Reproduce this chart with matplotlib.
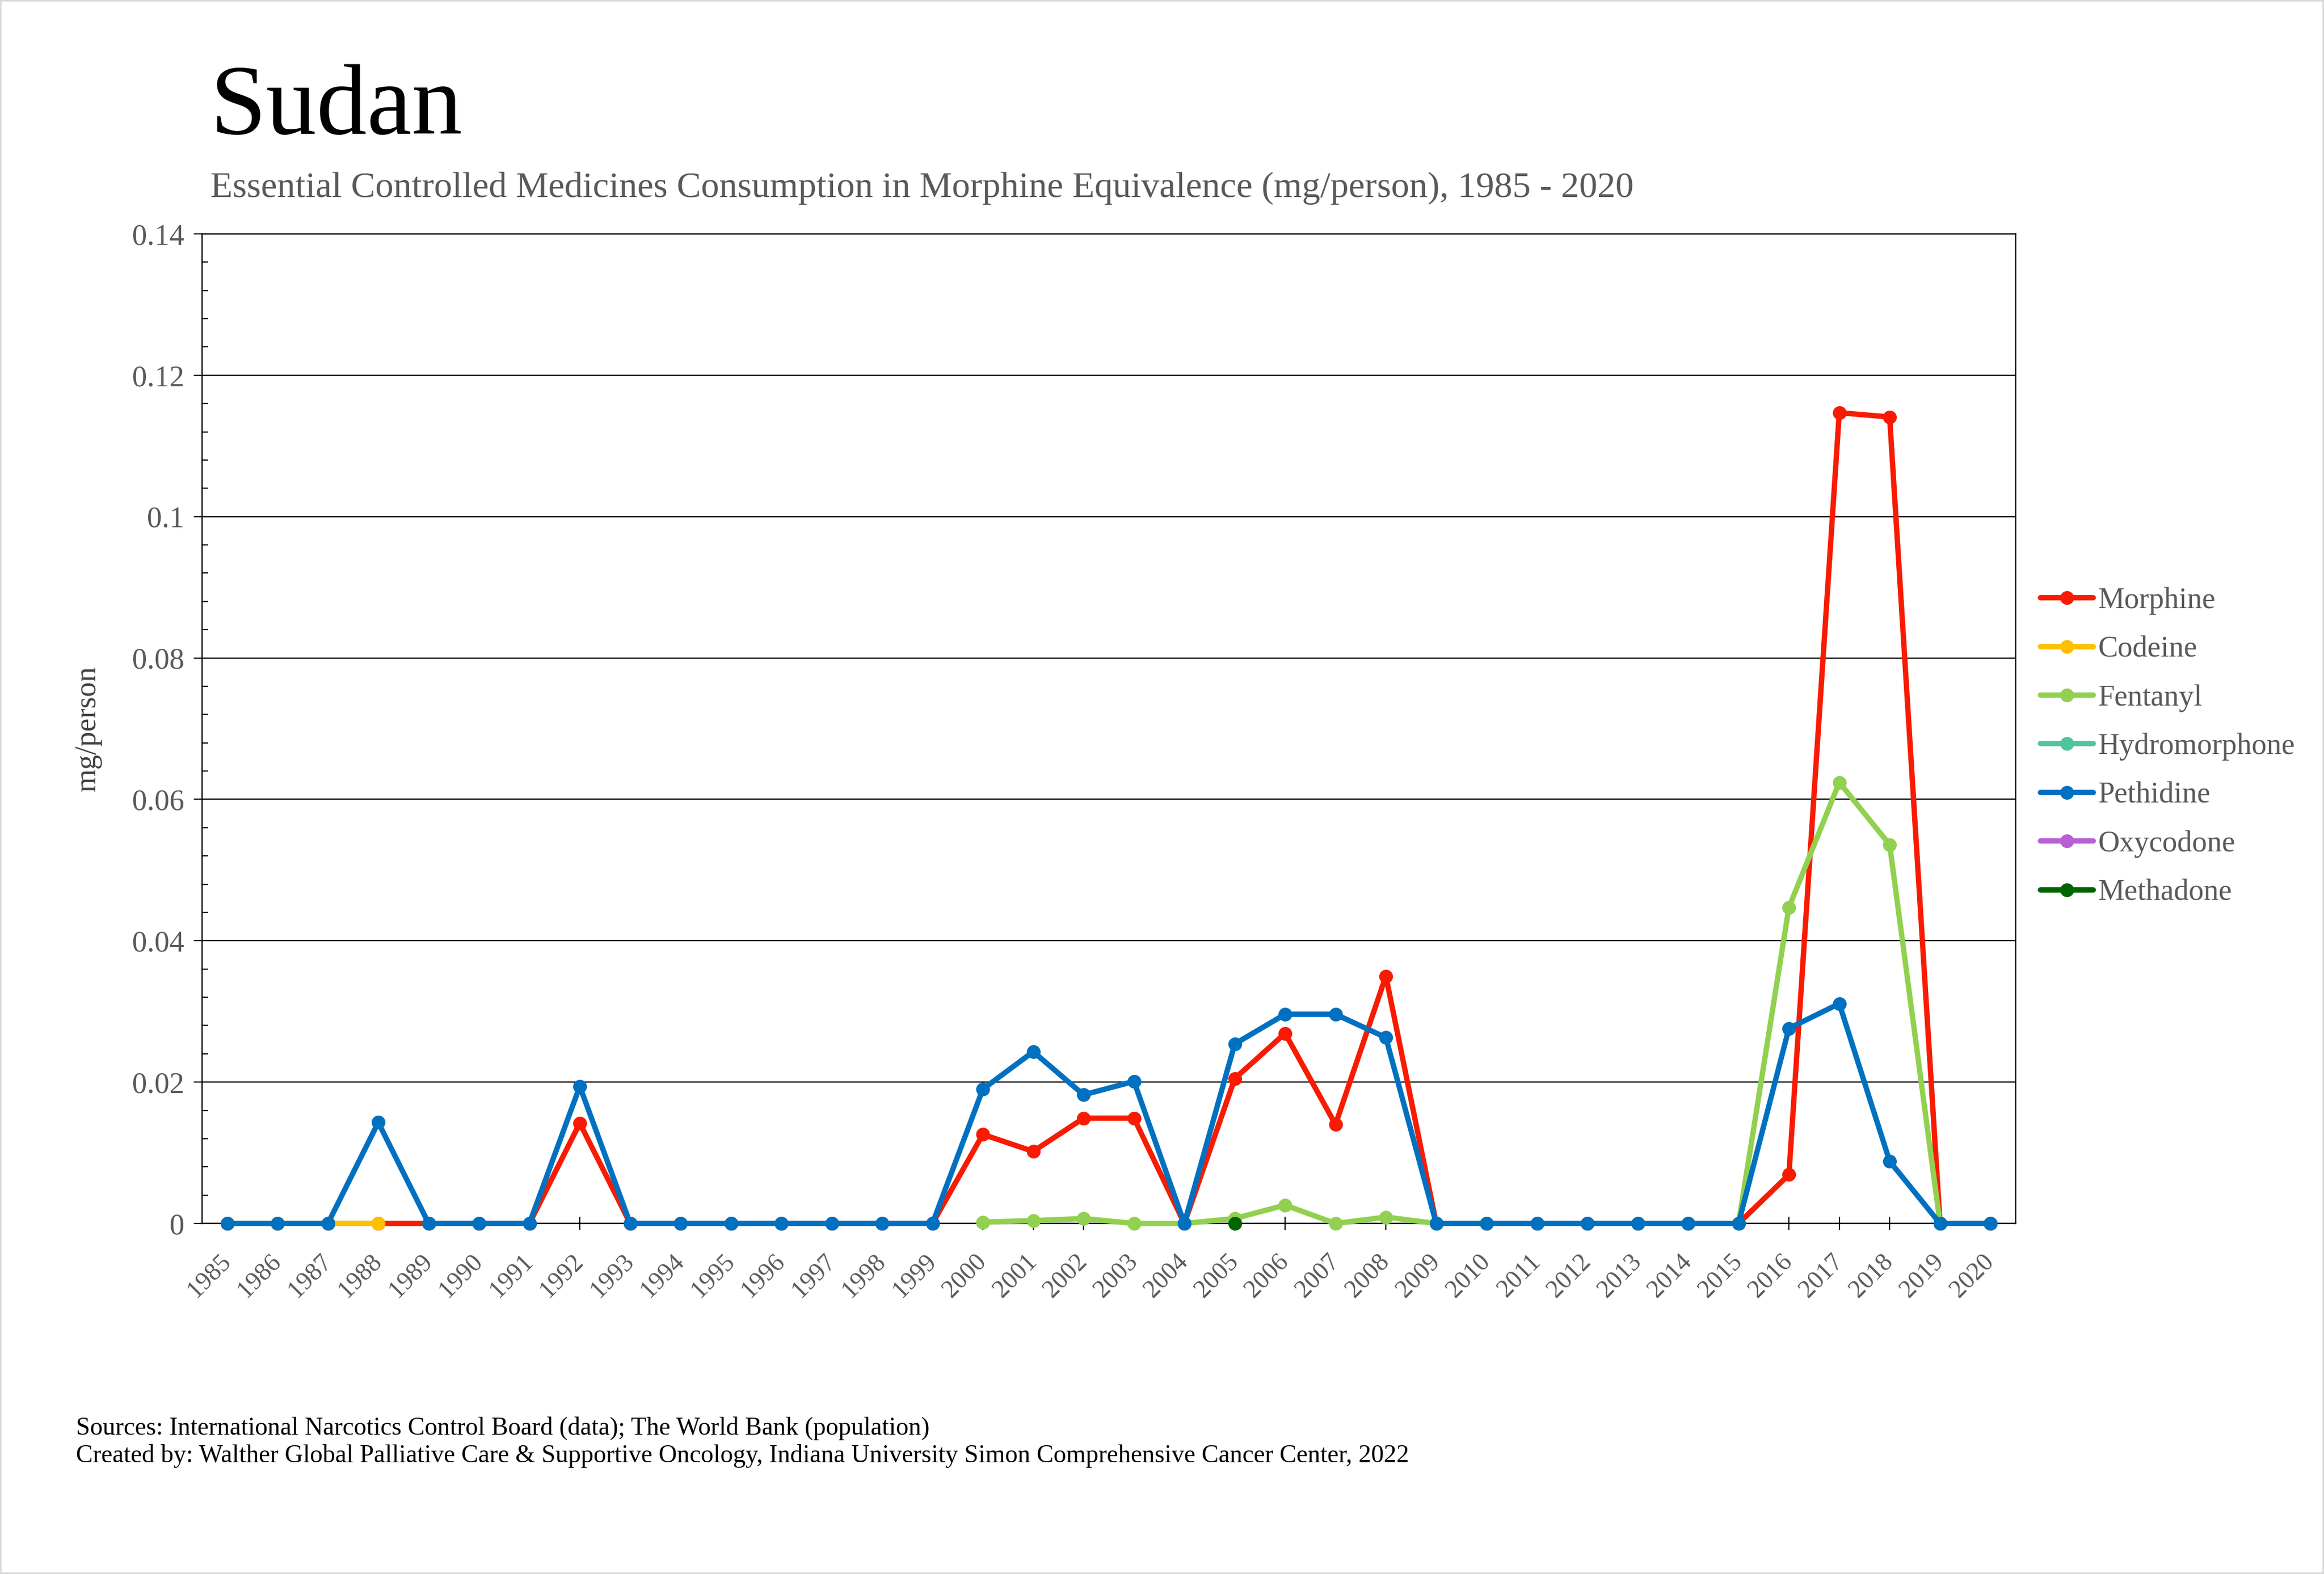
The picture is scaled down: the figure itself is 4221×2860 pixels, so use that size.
import matplotlib.pyplot as plt
import matplotlib.patches as mpatches
import numpy as np

plt.rcParams['font.family'] = ['Liberation Serif', 'DejaVu Serif']

years = [str(y) for y in range(1985, 2021)]
nan = np.nan

# values, mg/person (NaN = no data)
morphine = [0, 0, 0, 0, 0, 0, 0, 0.0142, 0, 0, 0, 0, 0, 0, 0,
            0.0126, 0.0102, 0.0149, 0.0149, 0, 0.0205, 0.0269, 0.0140, 0.0350, 0,
            0, 0, 0, 0, 0, 0, 0.0069, 0.1147, 0.1141, 0, 0]
codeine = [0, 0, 0, 0] + [nan] * 32
fentanyl = [nan] * 15 + [0.0002, 0.0004, 0.0007, 0, 0, 0.0007, 0.0026, 0, 0.0009, 0,
                         0, 0, 0, 0, 0, 0, 0.0447, 0.0624, 0.0536, 0, nan]
hydromorphone = [nan] * 36
pethidine = [0, 0, 0, 0.0143, 0, 0, 0, 0.0194, 0, 0, 0, 0, 0, 0, 0,
             0.0190, 0.0243, 0.0182, 0.0201, 0, 0.0254, 0.0296, 0.0296, 0.0263, 0,
             0, 0, 0, 0, 0, 0, 0.0276, 0.0311, 0.0088, 0, 0]
oxycodone = [nan] * 36
methadone = [nan] * 20 + [0] + [nan] * 15

series = [
    ("Morphine", morphine, "#F81B02"),
    ("Codeine", codeine, "#FFC000"),
    ("Fentanyl", fentanyl, "#92D050"),
    ("Hydromorphone", hydromorphone, "#50C49F"),
    ("Pethidine", pethidine, "#0070C0"),
    ("Oxycodone", oxycodone, "#B660D4"),
    ("Methadone", methadone, "#006400"),
]

fig = plt.figure(figsize=(42.21, 28.60), dpi=100)
ax = fig.add_axes([0.0869, 0.2227, 0.8673 - 0.0869, 0.8514 - 0.2227])

x = np.arange(len(years))
for name, vals, col in series:
    ax.plot(x, vals, color=col, lw=7, marker='o', ms=17, label=name,
            clip_on=False, zorder=3, solid_capstyle='round')

ax.set_xlim(-0.5, len(years) - 0.5)
ax.set_ylim(0, 0.14)
ax.set_yticks(np.arange(0, 0.141, 0.02))
ax.set_yticklabels(["0", "0.02", "0.04", "0.06", "0.08", "0.1", "0.12", "0.14"])
ax.set_yticks(np.arange(0, 0.1401, 0.004), minor=True)
ax.set_xticks(x)
ax.set_xticklabels(years, rotation=45, ha='right', va='center',
                   rotation_mode='anchor', fontsize=33, color='#595959')
ax.tick_params(axis='x', direction='inout', length=17, width=1.6, pad=37)
ax.tick_params(axis='y', which='major', direction='out', length=11, width=1.6,
               labelsize=39, labelcolor='#595959', pad=12)
ax.tick_params(axis='y', which='minor', direction='in', length=8, width=1.6)
ax.grid(axis='y', color='black', lw=1.7, zorder=1)
for s in ax.spines.values():
    s.set_color('black')
    s.set_linewidth(1.7)

ax.set_ylabel("mg/person", fontsize=39, color='#404040', labelpad=40)

fig.text(0.0905, 0.915, "Sudan", fontsize=132, color='black', va='baseline')
fig.text(0.0905, 0.875, "Essential Controlled Medicines Consumption in Morphine Equivalence (mg/person), 1985 - 2020",
         fontsize=47.6, color='#595959', va='baseline')
fig.text(0.0327, 0.0885, "Sources: International Narcotics Control Board (data); The World Bank (population)",
         fontsize=33, color='black', va='baseline')
fig.text(0.0327, 0.0710, "Created by: Walther Global Palliative Care & Supportive Oncology, Indiana University Simon Comprehensive Cancer Center, 2022",
         fontsize=33, color='black', va='baseline')

fig.legend(loc='center left', bbox_to_anchor=(0.878, 0.5255), frameon=False,
           fontsize=39, labelcolor='#595959', handlelength=1.78, handletextpad=0.15,
           labelspacing=0.7, borderpad=0, borderaxespad=0)

fig.patches.append(mpatches.Rectangle((0, 0), 1, 1, transform=fig.transFigure,
                                      fill=False, edgecolor='#D9D9D9', lw=4))

fig.savefig("out.png", dpi=100)
